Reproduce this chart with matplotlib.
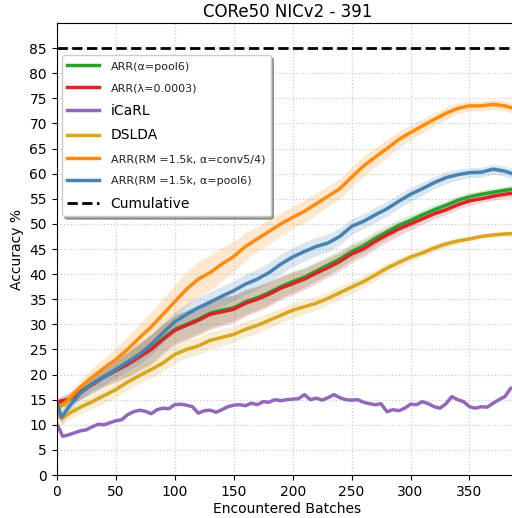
import numpy as np
import matplotlib
matplotlib.use("Agg")
import matplotlib.pyplot as plt

batches = [0, 4, 10] + list(range(20, 391, 10))

arr_pool6 = [14.2, 14.5, 15.0, 16.6, 18.2, 19.6, 21.0, 22.2, 23.7, 25.2, 27.2, 29.0, 30.0, 31.0,
             32.2, 32.8, 33.3, 34.5, 35.3, 36.3, 37.5, 38.5, 39.4, 40.6, 41.8, 43.0, 44.5, 45.6,
             47.1, 48.4, 49.7, 50.7, 51.8, 52.8, 53.7, 54.7, 55.4, 55.9, 56.3, 56.7, 57.0]
arr_lambda = [14.5, 14.8, 15.0, 16.5, 18.0, 19.5, 20.8, 22.0, 23.5, 25.0, 27.0, 28.8, 29.8, 30.8,
              32.0, 32.5, 33.0, 34.2, 35.0, 36.0, 37.2, 38.1, 39.0, 40.2, 41.3, 42.5, 44.0, 45.0,
              46.5, 47.8, 49.0, 50.0, 51.0, 52.0, 52.8, 53.8, 54.6, 55.0, 55.5, 55.9, 56.2]
dslda = [12.3, 11.2, 12.2, 13.5, 14.6, 15.8, 17.0, 18.5, 19.8, 21.0, 22.3, 24.0, 25.0, 25.7,
         26.8, 27.4, 28.0, 29.0, 29.8, 30.8, 31.8, 32.8, 33.5, 34.2, 35.2, 36.3, 37.4, 38.5,
         39.8, 41.2, 42.3, 43.4, 44.2, 45.2, 46.0, 46.6, 47.0, 47.5, 47.8, 48.0, 48.1]
arr_rm_conv = [14.0, 13.8, 15.0, 17.5, 19.5, 21.3, 23.0, 25.0, 27.3, 29.5, 32.0, 34.5, 37.0, 39.0,
               40.3, 42.0, 43.5, 45.5, 47.0, 48.5, 50.0, 51.3, 52.5, 54.0, 55.5, 57.0, 59.3, 61.5,
               63.3, 65.0, 66.8, 68.2, 69.5, 70.8, 72.0, 73.0, 73.5, 73.5, 73.8, 73.5, 72.8]
arr_rm_pool6 = [14.5, 11.5, 13.5, 16.3, 18.2, 19.5, 21.0, 22.5, 24.0, 26.0, 28.3, 30.5, 32.0, 33.3,
                34.4, 35.6, 36.7, 38.0, 39.0, 40.3, 42.0, 43.4, 44.5, 45.5, 46.2, 47.5, 49.5, 50.5,
                51.8, 53.0, 54.5, 55.9, 57.0, 58.2, 59.2, 59.8, 60.2, 60.3, 60.9, 60.5, 59.7]

# half-width of the shaded bands
sd_pool6 = [0.8, 1.0, 1.2, 1.5, 1.8, 2.0, 2.2, 2.4, 2.6, 2.8, 2.8, 2.8, 2.8, 2.8, 2.8, 2.7, 2.6,
            2.5, 2.4, 2.3, 2.2, 2.1, 2.0, 1.9, 1.8, 1.7, 1.6, 1.5, 1.4, 1.3, 1.2, 1.1, 1.0, 1.0,
            0.9, 0.9, 0.8, 0.8, 0.8, 0.8, 0.8]
sd_lambda = [0.8, 1.0, 1.2, 1.5, 1.8, 2.0, 2.3, 2.5, 2.8, 3.0, 3.0, 3.0, 3.0, 3.0, 3.0, 2.8, 2.7,
             2.6, 2.5, 2.4, 2.3, 2.2, 2.1, 2.0, 1.9, 1.8, 1.7, 1.6, 1.5, 1.4, 1.3, 1.2, 1.1, 1.0,
             1.0, 0.9, 0.9, 0.8, 0.8, 0.8, 0.8]
sd_dslda = [1.0, 1.2, 1.2, 1.3, 1.4, 1.5, 1.5, 1.6, 1.6, 1.7, 1.7, 1.7, 1.7, 1.7, 1.7, 1.7, 1.6,
            1.6, 1.6, 1.5, 1.5, 1.5, 1.4, 1.4, 1.3, 1.3, 1.2, 1.2, 1.1, 1.0, 1.0, 0.9, 0.8, 0.8,
            0.7, 0.6, 0.5, 0.5, 0.5, 0.5, 0.5]
sd_rm_conv = [1.0, 1.0, 1.2, 1.5, 1.8, 2.0, 2.3, 2.5, 2.8, 3.0, 3.2, 3.3, 3.5, 3.5, 3.5, 3.3, 3.0,
              2.8, 2.5, 2.5, 2.3, 2.2, 2.2, 2.2, 2.0, 2.0, 2.0, 2.0, 1.8, 1.8, 1.6, 1.5, 1.4, 1.3,
              1.2, 1.1, 1.0, 1.0, 1.0, 1.0, 1.0]
sd_rm_pool6 = [1.0, 1.5, 1.2, 1.2, 1.3, 1.5, 1.6, 1.8, 1.9, 2.0, 2.0, 2.0, 2.1, 2.1, 2.1, 2.0, 2.0,
               2.0, 2.0, 2.0, 2.0, 1.9, 1.9, 1.8, 1.8, 1.7, 1.6, 1.5, 1.5, 1.5, 1.4, 1.4, 1.3, 1.2,
               1.2, 1.1, 1.0, 1.0, 1.0, 1.0, 1.0]

# iCaRL is noisier, read every 5 batches
icarl_batches = list(range(0, 391, 5))
icarl = [10.2, 7.7, 8.0, 8.4, 8.8, 9.0, 9.6, 10.1, 10.0, 10.4, 10.8, 11.0, 12.0, 12.6, 12.9, 12.7,
         12.2, 13.0, 13.3, 13.2, 14.0, 14.1, 13.9, 13.6, 12.3, 12.8, 12.9, 12.5, 13.0, 13.6, 13.9,
         14.0, 13.8, 14.3, 14.0, 14.6, 14.5, 15.0, 14.8, 15.0, 15.1, 15.2, 16.0, 15.0, 15.3, 14.9,
         15.4, 16.0, 15.4, 15.0, 14.9, 15.0, 14.5, 14.2, 14.0, 14.2, 12.6, 13.0, 12.8, 13.3, 14.1,
         14.0, 14.6, 14.2, 13.6, 13.3, 14.2, 15.6, 15.0, 14.6, 13.6, 13.3, 13.6, 13.5, 14.3, 15.0,
         15.6, 17.3, 17.0]

cumulative = 85

fig = plt.figure(figsize=(5.12, 5.18), dpi=100)
ax = fig.add_axes([0.111, 0.083, 0.9004, 0.8726])

x = np.array(batches)
lw = 2.5
series = [
    (arr_pool6, sd_pool6, '#2ca02c', 'ARR(α=pool6)'),
    (arr_lambda, sd_lambda, '#d62728', 'ARR(λ=0.0003)'),
    (None, None, '#9467bd', 'iCaRL'),
    (dslda, sd_dslda, '#daa520', 'DSLDA'),
    (arr_rm_conv, sd_rm_conv, '#ff8c0f', 'ARR(RM =1.5k, α=conv5/4)'),
    (arr_rm_pool6, sd_rm_pool6, '#4682b4', 'ARR(RM =1.5k, α=pool6)'),
]
for vals, sd, col, lab in series:
    if vals is None:
        ax.plot(icarl_batches, icarl, color=col, lw=lw, label=lab)
        continue
    v = np.array(vals)
    s = np.array(sd)
    ax.fill_between(x, v - s, v + s, color=col, alpha=0.2, lw=0)
    ax.plot(x, v, color=col, lw=lw, label=lab)

ax.axhline(cumulative, color='black', ls='--', lw=2, label='Cumulative')

ax.set_xlim(0, 391)
ax.set_ylim(0, 90)
ax.set_xticks(range(0, 351, 50))
ax.set_yticks(range(0, 86, 5))
ax.tick_params(labelsize=10)
ax.grid(True, ls=':', color='#cccccc', lw=0.9)
ax.set_axisbelow(True)
ax.set_xlabel('Encountered Batches', fontsize=10, labelpad=2)
ax.set_ylabel('Accuracy %', fontsize=10)
ax.set_title('CORe50 NICv2 - 391', fontsize=12, pad=4)
ax.spines['right'].set_visible(False)

leg = ax.legend(loc='upper left', bbox_to_anchor=(0.011, 0.93), borderaxespad=0,
                fontsize=10, shadow=True, fancybox=True, framealpha=1, handlelength=2.3,
                labelspacing=0.74)
for t in leg.get_texts():
    if t.get_text().startswith('ARR'):
        t.set_fontsize(8)
        t.set_color('#222222')

fig.savefig('out.png', dpi=100)
